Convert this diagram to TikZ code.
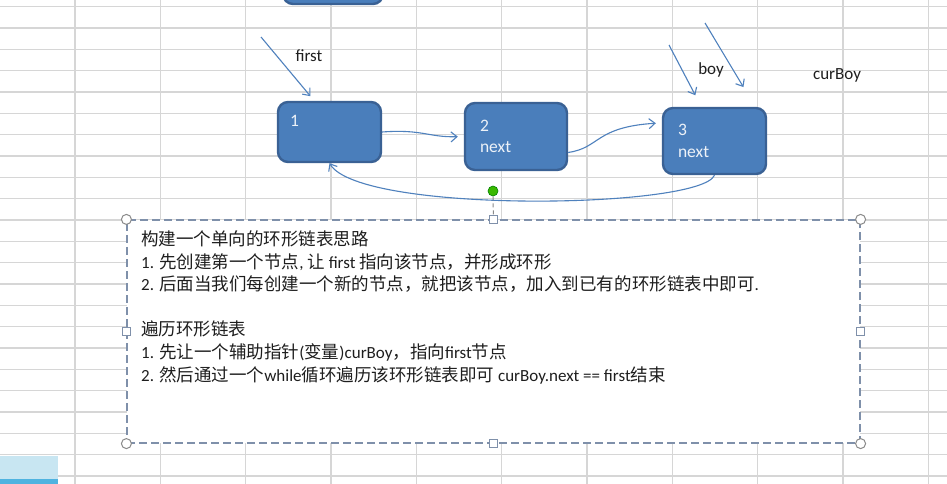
\documentclass[tikz,border=0pt]{standalone}
\usepackage{fontspec}
\setmainfont{Carlito}
\newfontfamily\cjk{Noto Sans CJK SC}[Scale=1.03]
\usetikzlibrary{arrows.meta}
\definecolor{gridc}{HTML}{D6D6D6}
\definecolor{nodefill}{HTML}{4A7EBB}
\definecolor{nodeedge}{HTML}{3A6194}
\definecolor{arrc}{HTML}{4F81BD}
\definecolor{boxedge}{HTML}{7F90AA}
\definecolor{handleedge}{HTML}{8A8A8A}
\definecolor{txt}{HTML}{1E1E1E}
\definecolor{patchlight}{HTML}{C8E6F2}
\definecolor{patchdark}{HTML}{4FB3E0}
\tikzset{
  listnode/.style={draw=nodeedge, fill=nodefill, line width=2.4pt, rounded corners=10pt,
    text=white!90!nodefill, font=\fontsize{17.5}{21.5}\selectfont, align=left, inner xsep=17pt, inner ysep=0pt},
  arr/.style={draw=arrc, line width=1.1pt, -{Straight Barb[length=6pt,width=10pt]}},
  plain/.style={font=\fontsize{17}{22.6}\selectfont, text=txt},
  cornerhandle/.style={circle, draw=handleedge, fill=white, line width=1pt, minimum size=10pt, inner sep=0pt},
  sidehandle/.style={rectangle, draw=boxedge, fill=white, line width=1pt, minimum size=8pt, inner sep=0pt},
}
\begin{document}
\begin{tikzpicture}[x=1pt,y=-1pt]
\useasboundingbox (0,0) rectangle (947,484);
\fill[white] (0,0) rectangle (947,484);
% spreadsheet grid
\begin{scope}
\clip (0,0) rectangle (947,484);
\foreach \i in {0,...,10} \draw[gridc, line width=1.3pt] ({75+85.33*\i},0) -- ({75+85.33*\i},484);
\foreach \j in {0,...,22} \draw[gridc, line width=1.3pt] (0,{6.7+21.33*\j}) -- (947,{6.7+21.33*\j});
% partial node at top
\node[listnode, minimum width=100pt, minimum height=40pt, text width=66pt] (n0) at (333,-16) {};
\end{scope}
% bottom-left blue patch
\fill[patchlight] (0,456) rectangle (58,479);
\fill[patchdark] (0,479) rectangle (58,484);
% list nodes
\node[listnode, minimum width=103pt, minimum height=60pt, text width=79pt, inner xsep=12pt] (n1) at (329.5,132) {1\\~};
\node[listnode, minimum width=102pt, minimum height=67pt, text width=72pt, inner xsep=15pt] (n2) at (516,136.5) {2\\next};
\node[listnode, minimum width=103pt, minimum height=66pt, text width=73pt, inner xsep=15pt] (n3) at (714.5,141) {3\\next};
% labels
\node[plain, anchor=center] (lfirst) at (309,56) {first};
\node[plain, anchor=center] (lboy) at (711,70) {boy};
\node[plain, anchor=center] (lcur) at (837,75) {curBoy};
% pointer arrows
\coordinate (f0) at (261,37);
\coordinate (b0) at (669,45);
\coordinate (c0) at (705,23);
\draw[arr, shorten >=6pt] (f0) -- (n1.116);
\draw[arr, shorten >=13pt] (b0) -- (n3.111);
\draw[arr, shorten >=23pt] (c0) -- (n3.40);
% next arrows
\draw[arr, shorten >=6pt] (n1.east) .. controls +(40,-3) and +(-35,1) .. (n2.west);
\draw[arr, shorten >=6pt] (n2.-17) .. controls (600,148) and (595,127) .. (n3.161);
\draw[arr] (n3.south) .. controls (700,209) and (360,214) .. (n1.south);
% text box
\node[draw=boxedge, dashed, dash pattern=on 8pt off 4pt, line width=1.2pt, fill=white,
      minimum width=733pt, minimum height=223pt, inner sep=0pt] (tb) at (493.5,331.5) {};
\node[plain, anchor=north west, align=left, inner sep=0pt] (tt) at (141,230.5) {%
{\cjk 构建一个单向的环形链表思路}\\
1. {\cjk 先创建第一个节点}, {\cjk 让} first {\cjk 指向该节点，并形成环形}\\
2. {\cjk 后面当我们每创建一个新的节点，就把该节点，加入到已有的环形链表中即可}.\\
\mbox{}\\
{\cjk 遍历环形链表}\\
1. {\cjk 先让一个辅助指针}({\cjk 变量})curBoy{\cjk ，指向}first{\cjk 节点}\\
2. {\cjk 然后通过一个}while{\cjk 循环遍历该环形链表即可} curBoy.next == first{\cjk 结束}};
% green rotate handle
\node[circle, fill=green!60!black!70!lime, draw=green!50!black, line width=0.6pt, minimum size=10pt, inner sep=0pt] (gd) at (493,191) {};
\draw[handleedge, dashed, dash pattern=on 4pt off 3pt, line width=1pt] (gd.south) -- (tb.north);
% selection handles
\node[cornerhandle] (h1) at (tb.north west) {};
\node[cornerhandle] (h2) at (tb.north east) {};
\node[cornerhandle] (h3) at (tb.south west) {};
\node[cornerhandle] (h4) at (tb.south east) {};
\node[sidehandle] (h5) at (tb.north) {};
\node[sidehandle] (h6) at (tb.east) {};
\node[sidehandle] (h7) at (tb.south) {};
\node[sidehandle] (h8) at (tb.west) {};
\end{tikzpicture}
\end{document}
